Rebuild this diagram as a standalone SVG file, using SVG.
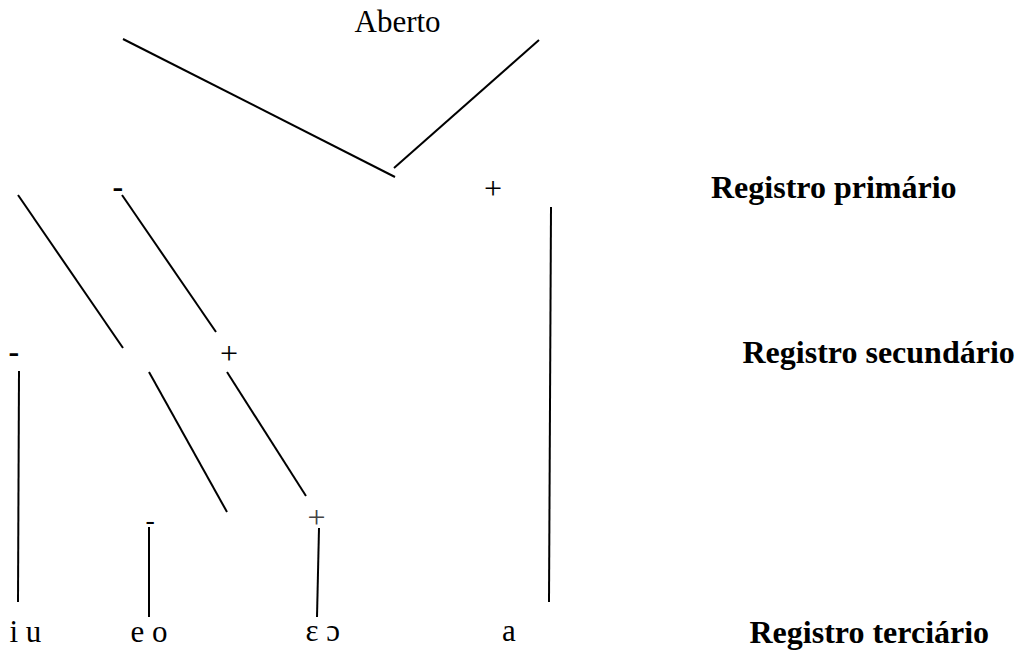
<svg xmlns="http://www.w3.org/2000/svg" width="1019" height="650" viewBox="0 0 1019 650">
<style>
  text { font-family: "Liberation Serif", "Times New Roman", serif; fill: #000; }
  .lbl { font-size: 31px; }
  .reg { font-size: 32px; font-weight: bold; }
  .bsign { font-size: 32px; font-weight: bold; }
  .sign { font-size: 32px; }
  .small { font-size: 28px; }
  .thin { font-size: 32px; fill: #444; }
  .conn line { stroke: #000; stroke-width: 2; fill: none; }
</style>
<rect width="1019" height="650" fill="#fff"/>
<g id="connectors" class="conn">
  <line x1="123" y1="39" x2="395" y2="177"/>
  <line x1="394" y1="168" x2="539" y2="40"/>
  <line x1="18" y1="195" x2="123" y2="348"/>
  <line x1="122" y1="195" x2="216" y2="332"/>
  <line x1="149" y1="372" x2="227" y2="512"/>
  <line x1="227" y1="372" x2="306" y2="496"/>
  <line x1="19" y1="371" x2="18" y2="602"/>
  <line x1="149" y1="527" x2="149" y2="617"/>
  <line x1="319" y1="528" x2="317" y2="617"/>
  <line x1="551" y1="207" x2="549" y2="602"/>
</g>
<g id="node-aberto"><text class="lbl" x="354.5" y="32">Aberto</text></g>
<g id="node-prim-minus"><text class="bsign" x="112.6" y="197">-</text></g>
<g id="node-prim-plus"><text class="sign" x="484" y="199">+</text></g>
<g id="node-sec-minus"><text class="bsign" x="8.6" y="362">-</text></g>
<g id="node-sec-plus"><text class="sign" x="220" y="364">+</text></g>
<g id="node-ter-minus"><text class="small" x="145.6" y="528.5">-</text></g>
<g id="node-ter-plus"><text class="thin" x="307.5" y="528">+</text></g>
<g id="node-iu"><text class="lbl" x="9.5" y="642">i u</text></g>
<g id="node-eo"><text class="lbl" x="130.5" y="642">e o</text></g>
<g id="node-eps"><text class="lbl" x="305.5" y="641">ε ɔ</text></g>
<g id="node-a"><text class="lbl" x="502" y="641">a</text></g>
<g id="label-primario"><text class="reg" x="711" y="197.5">Registro primário</text></g>
<g id="label-secundario"><text class="reg" x="742.5" y="362.5">Registro secundário</text></g>
<g id="label-terciario"><text class="reg" x="749.5" y="643">Registro terciário</text></g>
</svg>
